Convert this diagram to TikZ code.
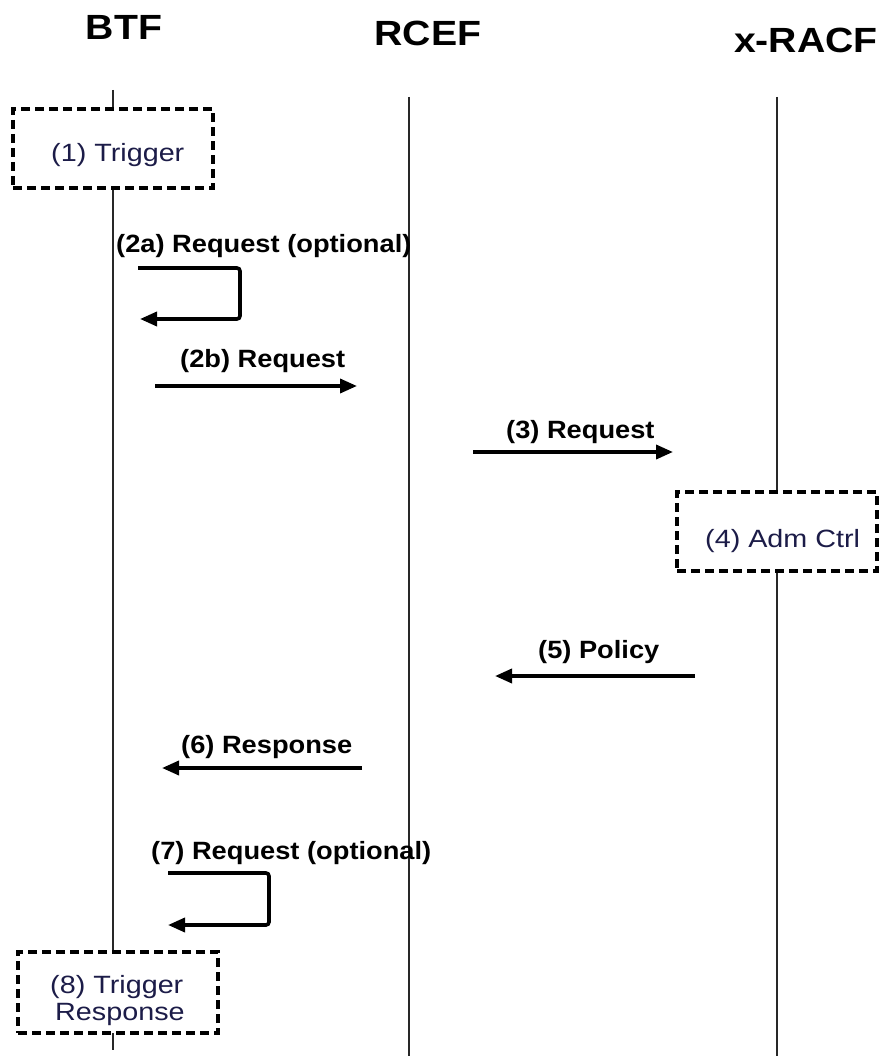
\documentclass[tikz,border=0pt]{standalone}
\usepackage{fontspec}
\setmainfont{Liberation Sans}[FakeStretch=1.15]
\newfontfamily\titlefont{Liberation Sans}[FakeStretch=1.12]
\newfontfamily\lblfont{Liberation Sans}[FakeStretch=1.09]
\usetikzlibrary{arrows.meta}
\definecolor{boxtext}{RGB}{28,28,72}
\definecolor{lifeline}{RGB}{40,40,40}
\begin{document}
\begin{tikzpicture}[x=1pt,y=-1pt,
  title/.style={font=\titlefont\bfseries\fontsize{35}{40}\selectfont, inner sep=0pt},
  lbl/.style={font=\lblfont\bfseries\fontsize{25}{30}\selectfont, inner sep=0pt, anchor=base west},
  btxt/.style={font=\fontsize{25}{30}\selectfont, inner sep=0pt, anchor=base west, text=boxtext},
  life/.style={draw=lifeline, line width=1.8pt},
  dbox/.style={draw=black, fill=white, line width=3.2pt, dash pattern=on 9pt off 5pt, inner sep=0pt},
  msg/.style={line width=3.6pt, -{Triangle[length=17pt,width=14pt]}},
]
\fill[white] (0,0) rectangle (880,1056);
\useasboundingbox (0,0) rectangle (880,1056);

% titles
\node[title] (hBTF) at (124,27) {BTF};
\node[title] (hRCEF) at (428,33.5) {RCEF};
\node[title] (hRACF) at (806,40) {x-RACF};

% lifelines
\coordinate (btfTop) at (113,90);
\coordinate (btfBot) at (113,1050);
\coordinate (rcefTop) at (409,97);
\coordinate (rcefBot) at (409,1056);
\coordinate (racfTop) at (777,97);
\coordinate (racfBot) at (777,1056);
\draw[life] (btfTop) -- (btfBot);
\draw[life] (rcefTop) -- (rcefBot);
\draw[life] (racfTop) -- (racfBot);

% boxes
\node[dbox, minimum width=200pt, minimum height=79pt] (b1) at (113,148.5) {};
\node[btxt] (t1) at (51,162) {(1) Trigger};
\node[dbox, minimum width=200pt, minimum height=79pt] (b4) at (777,531.5) {};
\node[btxt] (t4) at (705,547) {(4) Adm Ctrl};
\node[dbox, minimum width=200pt, minimum height=81pt] (b8) at (118,992.5) {};
\node[btxt] (t8a) at (50,993) {(8) Trigger};
\node[btxt] (t8b) at (55,1020) {Response};

% (2a)
\node[lbl] (l2a) at (116,253) {(2a) Request (optional)};
\coordinate (a2s) at (138,268);
\coordinate (a2c1) at (240,268);
\coordinate (a2c2) at (240,319);
\coordinate (a2e) at (140,319);
\draw[msg, rounded corners=3pt] (a2s) -- (a2c1) -- (a2c2) -- (a2e);

% (2b)
\node[lbl] (l2b) at (180,367) {(2b) Request};
\coordinate (m2bs) at (155,386);
\coordinate (m2be) at (357,386);
\draw[msg] (m2bs) -- (m2be);

% (3)
\node[lbl] (l3) at (506,438) {(3) Request};
\coordinate (m3s) at (473,452);
\coordinate (m3e) at (673,452);
\draw[msg] (m3s) -- (m3e);

% (5)
\node[lbl] (l5) at (538,658) {(5) Policy};
\coordinate (m5s) at (695,676);
\coordinate (m5e) at (495,676);
\draw[msg] (m5s) -- (m5e);

% (6)
\node[lbl] (l6) at (181,753) {(6) Response};
\coordinate (m6s) at (362,768);
\coordinate (m6e) at (162,768);
\draw[msg] (m6s) -- (m6e);

% (7)
\node[lbl] (l7) at (151,859) {(7) Request (optional)};
\coordinate (a7s) at (168,873);
\coordinate (a7c1) at (269,873);
\coordinate (a7c2) at (269,925);
\coordinate (a7e) at (168,925);
\draw[msg, rounded corners=3pt] (a7s) -- (a7c1) -- (a7c2) -- (a7e);
\end{tikzpicture}
\end{document}
